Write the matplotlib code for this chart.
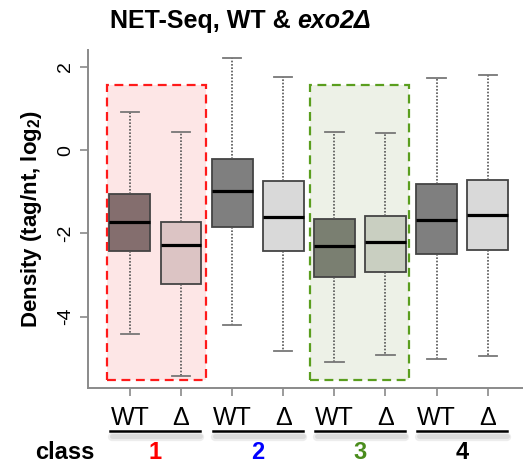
import matplotlib
matplotlib.use("Agg")
import matplotlib.pyplot as plt
from matplotlib.patches import Rectangle
from matplotlib.transforms import blended_transform_factory, offset_copy

plt.rcParams['font.family'] = ['Liberation Sans', 'DejaVu Sans']
plt.rcParams['mathtext.fontset'] = 'custom'
plt.rcParams['mathtext.rm'] = 'Liberation Sans'
plt.rcParams['mathtext.bf'] = 'Liberation Sans:bold'

# box summaries (log2 tag/nt)
strain = ["WT", "Δ", "WT", "Δ", "WT", "Δ", "WT", "Δ"]
whislo = [-4.41, -5.42, -4.19, -4.83, -5.09, -4.92, -5.02, -4.94]
q1 = [-2.42, -3.21, -1.84, -2.42, -3.04, -2.93, -2.50, -2.40]
med = [-1.72, -2.29, -0.99, -1.61, -2.30, -2.20, -1.67, -1.56]
q3 = [-1.06, -1.72, -0.22, -0.75, -1.66, -1.58, -0.81, -0.72]
whishi = [0.91, 0.43, 2.20, 1.75, 0.43, 0.41, 1.73, 1.80]
box_colors = ["#846e6e", "#dcc4c4", "#7f7f7f", "#d9d9d9",
              "#7a7f71", "#c9cfc1", "#7f7f7f", "#d9d9d9"]

classes = ["1", "2", "3", "4"]
class_colors = ["#ff0000", "#0000ff", "#4a8c1c", "#000000"]

fig = plt.figure(figsize=(5.23, 4.68), dpi=100)
ax = fig.add_axes([0.168, 0.171, 0.832, 0.722])

# highlighted classes 1 and 3
ax.add_patch(Rectangle((0.55, -5.52), 1.93, 7.08, facecolor="#fde6e6",
                       edgecolor="#ff1a1a", ls=(0, (4, 2.5)), lw=1.6, zorder=0))
ax.add_patch(Rectangle((4.52, -5.52), 1.94, 7.08, facecolor="#edf1e7",
                       edgecolor="#5a9e1e", ls=(0, (4, 2.5)), lw=1.6, zorder=0))

stats = []
for i in range(len(strain)):
    stats.append(dict(whislo=whislo[i], q1=q1[i], med=med[i], q3=q3[i],
                      whishi=whishi[i], fliers=[]))

pos = list(range(1, len(strain) + 1))
bp = ax.bxp(stats, positions=pos, widths=0.8, patch_artist=True,
            showfliers=False, capwidths=0.36,
            boxprops=dict(edgecolor="#444444", lw=1.3),
            medianprops=dict(color="black", lw=2.3, solid_capstyle="butt"),
            whiskerprops=dict(color="#555555", lw=1.2, ls=(0, (1, 1))),
            capprops=dict(color="#777777", lw=1.3))
for patch, c in zip(bp["boxes"], box_colors):
    patch.set_facecolor(c)
    patch.set_zorder(2)

ax.set_xlim(0.178, 8.69)
ax.set_ylim(-5.71, 2.4)

for s in ["top", "right"]:
    ax.spines[s].set_visible(False)
for s in ["left", "bottom"]:
    ax.spines[s].set_color("#8a8a8a")
    ax.spines[s].set_linewidth(1.4)

ax.set_yticks([-4, -2, 0, 2])
ax.set_yticklabels(["-4", "-2", "0", "2"], rotation=90, va="center",
                   fontsize=14)
ax.tick_params(axis="y", length=6, width=1.2, color="#8a8a8a", pad=4)
ax.set_xticks(pos)
ax.set_xticklabels(strain, fontsize=18)
ax.tick_params(axis="x", length=6, width=1.2, color="#8a8a8a", pad=7)

ax.set_ylabel("Density (tag/nt, log$_\\mathbf{2}$)", fontsize=16,
              fontweight="bold", labelpad=9)

# class underlines with a soft shadow, then the class numbers
tr = blended_transform_factory(ax.transData, fig.transFigure)
for k in range(len(classes)):
    mid = 1.5 + 2 * k
    for dy, w, a in [(-6, 6, 0.25), (-5, 3.5, 0.35)]:
        sh = offset_copy(tr, fig=fig, x=1, y=dy, units="dots")
        ax.plot([mid - 0.86, mid + 0.86], [0.079, 0.079], color="#bbbbbb",
                lw=w, alpha=a, transform=sh, clip_on=False,
                solid_capstyle="round")
    ax.plot([mid - 0.88, mid + 0.88], [0.079, 0.079], color="black",
            lw=1.8, transform=tr, clip_on=False)
    ax.text(mid, 0.034, classes[k], color=class_colors[k], fontsize=17,
            fontweight="bold", ha="center", va="center", transform=tr)
fig.text(0.124, 0.034, "class", fontsize=17, fontweight="bold",
         ha="center", va="center")

t1 = fig.text(0.21, 0.94, "NET-Seq, WT & ", fontsize=18, fontweight="bold",
              ha="left", va="baseline")
ax.annotate("exo2Δ", xy=(1, 0), xycoords=t1, fontsize=18, fontweight="bold",
            fontstyle="italic", va="bottom", ha="left",
            annotation_clip=False)

fig.savefig("out.png", dpi=100)
